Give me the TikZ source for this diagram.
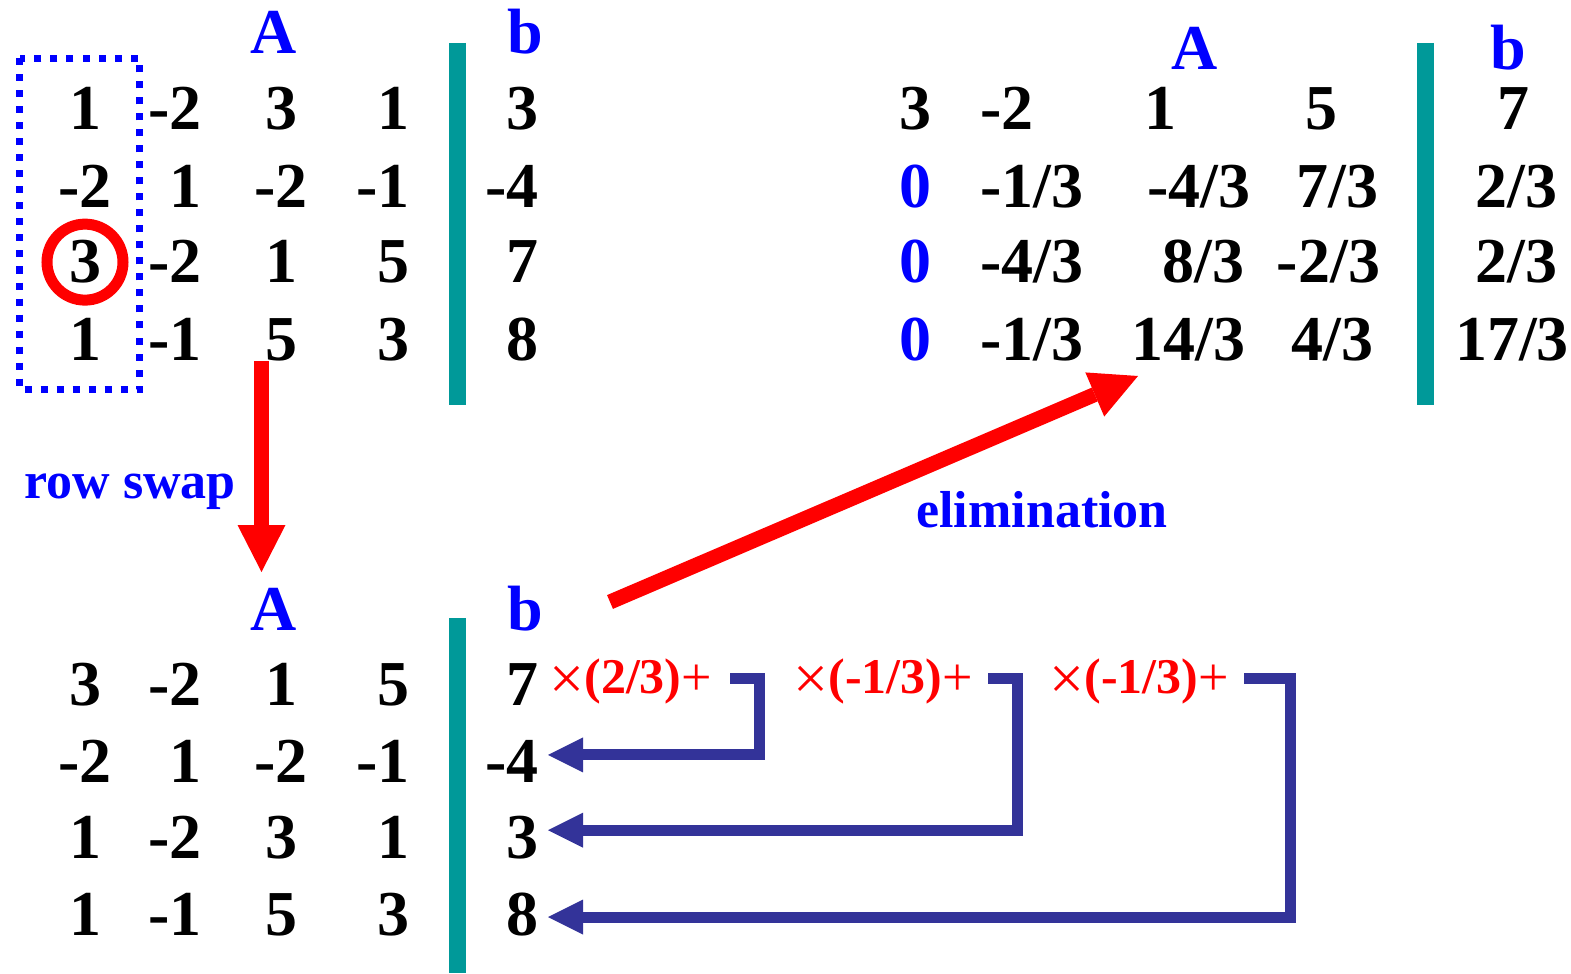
\documentclass[tikz,border=0pt]{standalone}
\usepackage{fontspec}
\setmainfont{Liberation Serif}
\usetikzlibrary{arrows.meta}
\definecolor{hdblue}{RGB}{0,0,255}
\definecolor{augteal}{RGB}{0,153,153}
\definecolor{brblue}{RGB}{51,51,153}
\newcommand{\bigtimes}{\raisebox{-3pt}{\fontsize{31}{30}\selectfont ×}}
\newcommand{\bigplus}{\raisebox{-1pt}{\fontsize{27}{30}\selectfont +}}

\begin{document}
\begin{tikzpicture}[x=0.5pt,y=-0.5pt,
  num/.style={inner sep=0pt,anchor=base,font=\fontsize{32}{36}\selectfont\bfseries},
  numr/.style={num,anchor=base east},
  head/.style={num,text=hdblue},
  note/.style={inner sep=0pt,anchor=base west,text=hdblue,font=\fontsize{26}{30}\selectfont\bfseries},
  mult/.style={inner sep=0pt,anchor=base west,text=red,font=\fontsize{25}{30}\selectfont},
  augbar/.style={draw=augteal,line width=8.5pt},
  pivotbox/.style={draw=hdblue,line width=3.5pt,dash pattern=on 3.5pt off 4.5pt},
  pivotring/.style={draw=red,line width=5.5pt},
  bigarrow/.style={draw=red,line width=7.5pt,-{Triangle[length=23.5pt,width=24pt,line width=0pt]}},
  bracket/.style={draw=brblue,line width=5.5pt,shorten >=4.5pt,-{Triangle[length=17.5pt,width=17.5pt,line width=0pt]}}]
  \useasboundingbox (0,0) rectangle (1571,974);

  % original system
  \foreach \r/\y/\a/\b/\c/\d/\e in {1/130/1/-2/3/1/3, 2/207/-2/1/-2/-1/-4, 3/283/3/-2/1/5/7, 4/360/1/-1/5/3/8}{
    \node[num] (tl\r1) at (85,\y) {\a};
    \node[numr] (tl\r2) at (202,\y) {\b};
    \node[num] (tl\r3) at (281,\y) {\c};
    \node[numr] (tl\r4) at (410,\y) {\d};
    \node[numr] (tl\r5) at (539,\y) {\e};
  }
  \node[head] (tlA) at (273.5,54) {A};
  \node[head] (tlb) at (525,54) {b};
  \draw[augbar] (457.5,43) -- (457.5,405);
  \draw[pivotbox] (19.5,58.5) rectangle (139.5,389.5);
  \draw[pivotring] (tl31.center) circle[radius=19pt];

  % after the row swap
  \foreach \r/\y/\a/\b/\c/\d/\e in {1/705/3/-2/1/5/7, 2/782/-2/1/-2/-1/-4, 3/858/1/-2/3/1/3, 4/935/1/-1/5/3/8}{
    \node[num] (bl\r1) at (85,\y) {\a};
    \node[numr] (bl\r2) at (202,\y) {\b};
    \node[num] (bl\r3) at (281,\y) {\c};
    \node[numr] (bl\r4) at (410,\y) {\d};
    \node[numr] (bl\r5) at (539,\y) {\e};
  }
  \node[head] (blA) at (273.5,630) {A};
  \node[head] (blb) at (525,630) {b};
  \draw[augbar] (457.5,618) -- (457.5,973);

  % after elimination
  \node[head] (trA) at (1194.5,70) {A};
  \node[head] (trb) at (1508.5,70) {b};
  \node[num] (tr11) at (915.5,130) {3};
  \node[num] (tr12) at (1007,130) {-2};
  \node[num] (tr13) at (1160.5,130) {1};
  \node[num] (tr14) at (1321.5,130) {5};
  \node[num] (tr15) at (1513,130) {7};
  \node[head] (tr21) at (915.5,207) {0};
  \node[num] (tr22) at (1032,207) {-1/3};
  \node[num] (tr23) at (1199,207) {-4/3};
  \node[num] (tr24) at (1337.5,207) {7/3};
  \node[num] (tr25) at (1516.5,207) {2/3};
  \node[head] (tr31) at (915.5,283) {0};
  \node[num] (tr32) at (1032,283) {-4/3};
  \node[num] (tr33) at (1203.5,283) {8/3};
  \node[num] (tr34) at (1328.5,283) {-2/3};
  \node[num] (tr35) at (1516.5,283) {2/3};
  \node[head] (tr41) at (915.5,360) {0};
  \node[num] (tr42) at (1032,360) {-1/3};
  \node[num] (tr43) at (1188.5,360) {14/3};
  \node[num] (tr44) at (1332.5,360) {4/3};
  \node[num] (tr45) at (1512,360) {17/3};
  \draw[augbar] (1425.5,43) -- (1425.5,405);

  % steps
  \coordinate (swaps) at (261.5,361);
  \coordinate (swape) at (261.5,572);
  \draw[bigarrow] (swaps) -- (swape);
  \node[note] (swaplab) at (24,498) {row swap};
  \coordinate (elims) at (610,602);
  \coordinate (elime) at (1138,376);
  \draw[bigarrow] (elims) -- (elime);
  \node[note] (elimlab) at (916,527) {elimination};

  % row operations
  \node[mult] (m1) at (549,693) {\bigtimes\textbf{(2/3)}\bigplus};
  \node[mult] (m2) at (793,693) {\bigtimes\textbf{(-1/3)}\bigplus};
  \node[mult] (m3) at (1049,693) {\bigtimes\textbf{(-1/3)}\bigplus};
  \coordinate (st1) at (730,678);
  \coordinate (st2) at (988,678);
  \coordinate (st3) at (1244,678);
  \draw[bracket] (st1) -- ++(29,0) |- ([yshift=3pt]bl25.east);
  \draw[bracket] (st2) -- ++(29,0) |- ([yshift=3.5pt]bl35.east);
  \draw[bracket] (st3) -- ++(46,0) |- ([yshift=-1.5pt]bl45.east);
\end{tikzpicture}
\end{document}
